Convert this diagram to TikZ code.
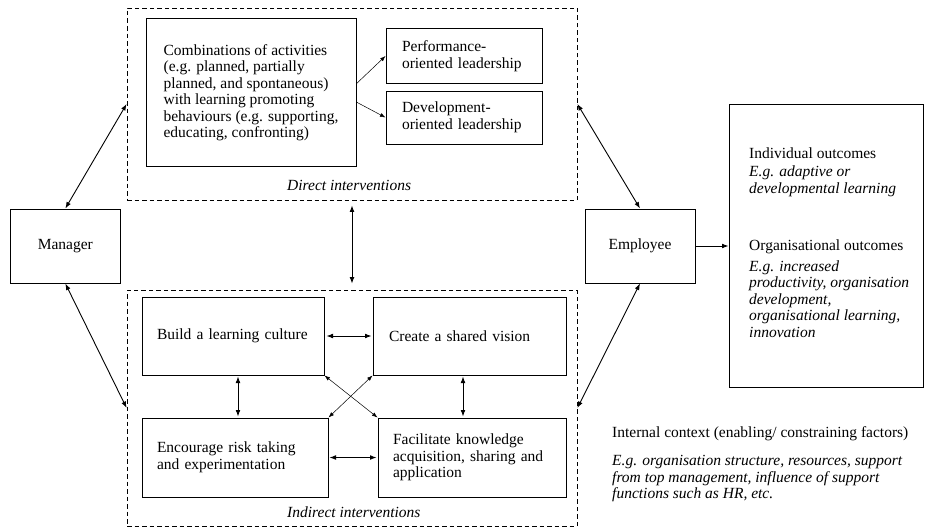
\documentclass[tikz,border=0pt]{standalone}
\usepackage{fontspec}
\setmainfont{Liberation Serif}
\usetikzlibrary{arrows.meta,calc}
\begin{document}
\begin{tikzpicture}[x=1pt,y=-1pt,
  every node/.style={font=\fontsize{15.5}{16.5}\selectfont},
  box/.style={draw, line width=1pt, inner sep=0pt, align=left},
  dashbox/.style={draw, line width=0.8pt, dash pattern=on 4.5pt off 3pt, inner sep=0pt},
  dbl/.style={{Latex[length=6.5pt,width=4.8pt]}-{Latex[length=6.5pt,width=4.8pt]}, line width=0.9pt},
  sgl/.style={-{Latex[length=6.5pt,width=4.8pt]}, line width=0.9pt},
  thindbl/.style={{Latex[length=5.5pt,width=4pt]}-{Latex[length=5.5pt,width=4pt]}, line width=0.5pt},
  thinsgl/.style={-{Latex[length=5.5pt,width=4pt]}, line width=0.5pt},
  lbl/.style={inner sep=0pt, font=\fontsize{15.5}{16.5}\selectfont\itshape}
]
\useasboundingbox (0,0) rectangle (925,527);

% dashed frames
\node[dashbox, minimum width=450pt, minimum height=192pt] (direct) at (352,104) {};
\node[dashbox, minimum width=450pt, minimum height=236pt] (indirect) at (352,408) {};

% actors
\node[box, minimum width=109.3pt, minimum height=74pt, align=center] (man) at (65.35,246) {Manager};
\node[box, minimum width=110pt, minimum height=74pt, align=center] (emp) at (640,246) {Employee};
\node[box, minimum width=194pt, minimum height=283pt] (out) at (826,245.5) {};

% direct interventions
\node[box, minimum width=210pt, minimum height=147pt] (comb) at (251,92.5)
  {Combinations of activities\\(e.g. planned, partially\\planned, and spontaneous)\\with learning promoting\\behaviours (e.g. supporting,\\educating, confronting)};
\node[box, minimum width=156pt, minimum height=54pt, text width=124pt] (perf) at (464,56)
  {Performance-\\oriented leadership};
\node[box, minimum width=156pt, minimum height=53pt, text width=124pt] (dev) at (464,117.5)
  {Development-\\oriented leadership};
\node[lbl, anchor=west] (dlbl) at (287,185) {Direct interventions};

% indirect interventions
\node[box, minimum width=182pt, minimum height=78pt, text width=152pt] (build) at (233,336)
  {Build a learning culture};
\node[box, minimum width=193pt, minimum height=78pt, text width=161pt] (create) at (469.5,336)
  {Create a shared vision};
\node[box, minimum width=186pt, minimum height=79pt, text width=156pt] (enc) at (235,457.5)
  {Encourage risk taking\\and experimentation};
\node[box, minimum width=188pt, minimum height=79pt, text width=158pt] (fac) at (472,457.5)
  {Facilitate knowledge\\acquisition, sharing and\\application};
\node[lbl, anchor=west] (ilbl) at (287,512) {Indirect interventions};

% outcomes text
\node[anchor=north west, align=left, inner sep=0pt] (outtxt) at (749,148)
  {Individual outcomes\\[1.5pt]
   \textit{E.g. adaptive or}\\
   \textit{developmental learning}\\[40.5pt]
   Organisational outcomes\\[4.5pt]
   \textit{E.g. increased}\\
   \textit{productivity, organisation}\\
   \textit{development,}\\
   \textit{organisational learning,}\\
   \textit{innovation}};

% internal context
\node[anchor=north west, align=left, inner sep=0pt] (ctx) at (612,426.5)
  {Internal context (enabling/ constraining factors)\\[11.5pt]
   \textit{E.g. organisation structure, resources, support}\\
   \textit{from top management, influence of support}\\
   \textit{functions such as HR, etc.}};

% connectors
\draw[dbl] (man.north) -- (direct.west);
\draw[dbl] (man.south) -- (indirect.west);
\draw[dbl] (emp.north) -- (direct.east);
\draw[dbl] (emp.south) -- (indirect.east);
\draw[dbl, shorten <=5pt, shorten >=6pt] (direct.south) -- (indirect.north);
\draw[sgl] (emp.east) -- (out.west |- emp.east);

\draw[thinsgl] ($(comb.north east)!0.44!(comb.south east)$) -- (perf.west);
\draw[thinsgl] ($(comb.north east)!0.565!(comb.south east)$) -- (dev.west);

\draw[dbl, shorten <=2pt, shorten >=1pt] (build.east) -- (create.west);
\draw[dbl, shorten <=1pt, shorten >=1pt] (enc.east) -- (fac.west);
\draw[dbl, shorten <=1pt, shorten >=1pt] ([xshift=5pt]build.south) -- ([xshift=5pt]build.south |- enc.north);
\draw[dbl, shorten <=1pt, shorten >=1pt] ([xshift=-6.5pt]create.south) -- ([xshift=-6.5pt]create.south |- fac.north);
\draw[thindbl] (build.south east) -- (fac.north west);
\draw[thindbl] (create.south west) -- (enc.north east);
\end{tikzpicture}
\end{document}
